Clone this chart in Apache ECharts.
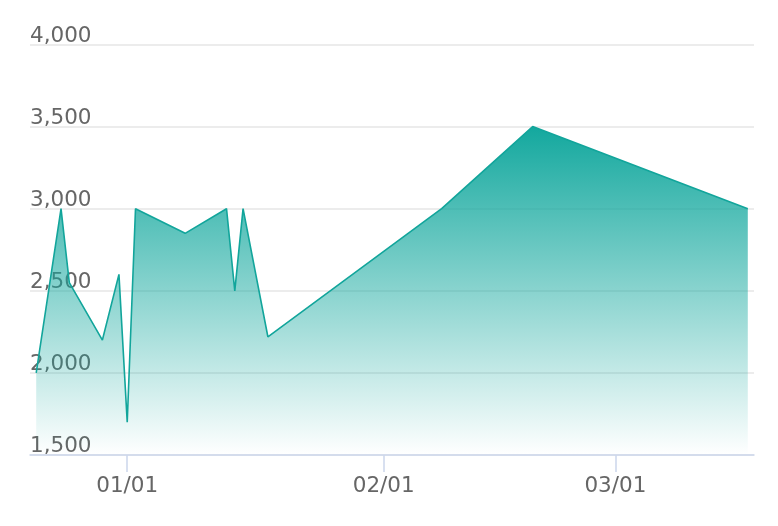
<!DOCTYPE html>
<html>
<head>
<meta charset="utf-8">
<script src="https://cdn.jsdelivr.net/npm/echarts@6/dist/echarts.min.js"></script>
<style>
html,body{margin:0;padding:0;background:#fff;}
#c{width:778px;height:526px;}
</style>
</head>
<body>
<div id="c"></div>
<script>
// Data
const dates = ['2018-12-21','2018-12-24','2018-12-25','2018-12-29','2018-12-31','2019-01-01','2019-01-02','2019-01-08','2019-01-13','2019-01-14','2019-01-15','2019-01-18','2019-02-08','2019-02-19','2019-03-17'];
const values = [2000, 3000, 2550, 2200, 2600, 1700, 3000, 2850, 3000, 2500, 3000, 2220, 3000, 3500, 3000];
const xTickDates = ['2019-01-01','2019-02-01','2019-03-01'];
const xRange = ['2018-12-20T06:00:00','2019-03-17T18:00:00'];
const yTicks = [1500, 2000, 2500, 3000, 3500, 4000];

const ts = s => new Date(s).getTime();
const seriesData = dates.map((d, i) => [ts(d + 'T00:00:00'), values[i]]);
const tickVals = xTickDates.map(d => ts(d + 'T00:00:00'));

const chart = echarts.init(document.getElementById('c'), null, {renderer: 'canvas'});
const font = 'DejaVu Sans';
chart.setOption({
  animation: false,
  backgroundColor: '#ffffff',
  grid: {left: 30, right: 24, top: 44.5, bottom: 71, containLabel: false},
  xAxis: {
    type: 'value',
    scale: true,
    min: ts(xRange[0]),
    max: ts(xRange[1]),
    axisLine: {show: true, lineStyle: {color: '#ccd6eb', width: 1.5}},
    axisTick: {show: true, length: 17, customValues: tickVals, lineStyle: {color: '#ccd6eb', width: 1.5}},
    axisLabel: {
      customValues: tickVals,
      color: '#666666', fontFamily: font, fontSize: 21.5, margin: 20,
      formatter: v => {
        const d = new Date(v);
        const mm = String(d.getMonth() + 1).padStart(2, '0');
        const dd = String(d.getDate()).padStart(2, '0');
        return mm + '/' + dd;
      }
    },
    splitLine: {show: false}
  },
  yAxis: {
    type: 'value',
    min: yTicks[0],
    max: yTicks[yTicks.length - 1],
    interval: 500,
    axisLine: {show: false},
    axisTick: {show: false},
    axisLabel: {
      inside: true, margin: 0, verticalAlign: 'bottom',
      color: '#666666', fontFamily: font, fontSize: 21.5, lineHeight: 17,
      formatter: v => v.toLocaleString('en-US')
    },
    splitLine: {show: true, lineStyle: {color: '#e6e6e6', width: 1.5}}
  },
  series: [{
    type: 'line',
    data: seriesData,
    showSymbol: false,
    smooth: false,
    lineStyle: {color: '#12a59b', width: 1.6},
    itemStyle: {color: '#12a59b'},
    areaStyle: {
      opacity: 1,
      color: new echarts.graphic.LinearGradient(0, 0, 0, 1, [
        {offset: 0, color: 'rgba(19,168,158,1)'},
        {offset: 1, color: 'rgba(19,168,158,0)'}
      ])
    }
  }]
});
</script>
</body>
</html>
